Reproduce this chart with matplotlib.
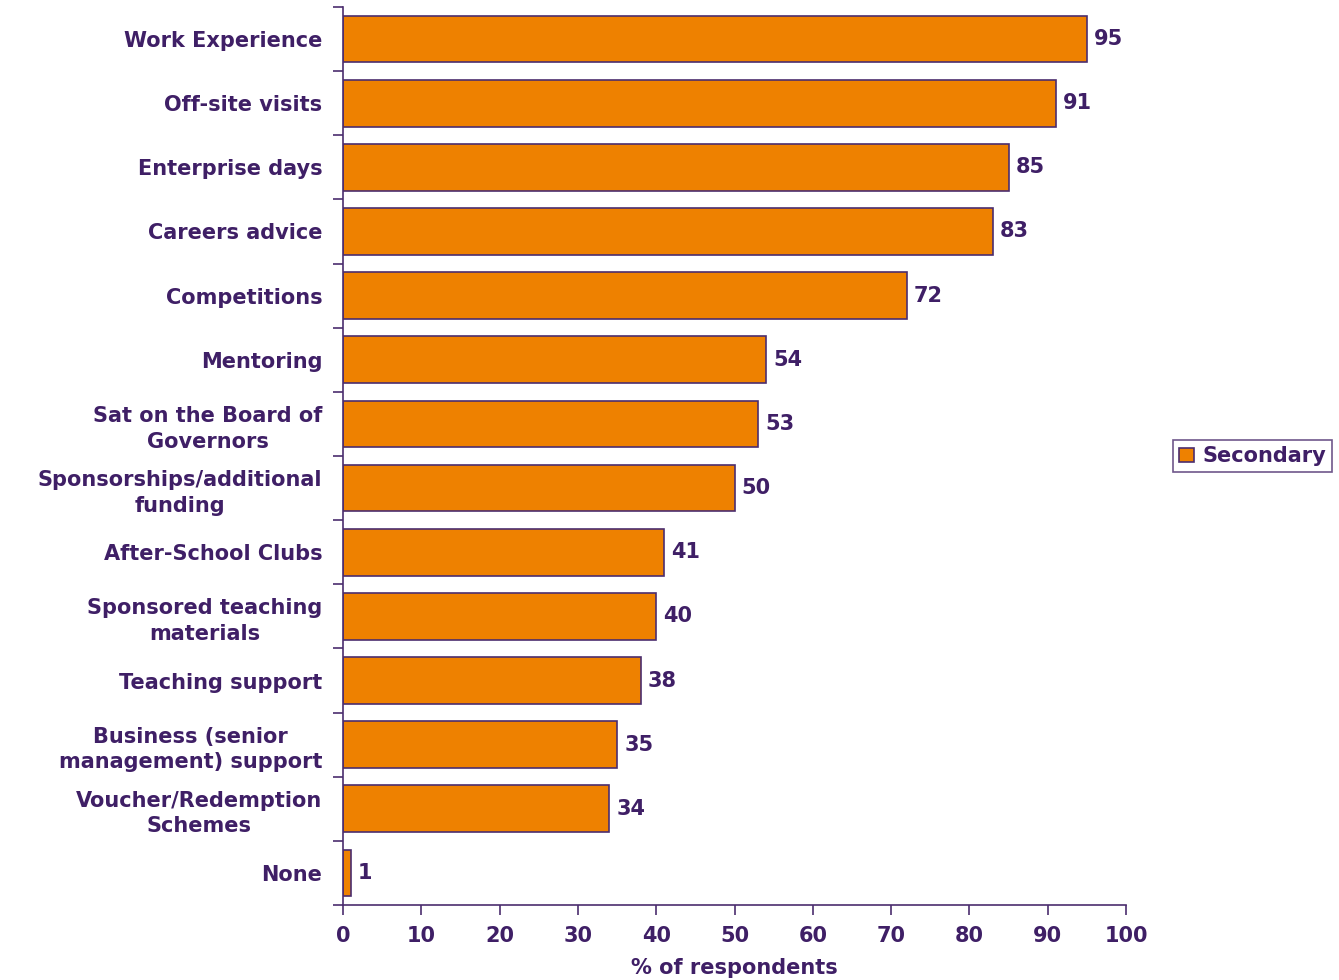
import matplotlib.pyplot as plt

# Employer activities reported by secondary schools
categories = ['Work Experience', 'Off-site visits', 'Enterprise days', 'Careers advice',
              'Competitions', 'Mentoring', 'Sat on the Board of\nGovernors',
              'Sponsorships/additional\nfunding', 'After-School Clubs',
              'Sponsored teaching\nmaterials', 'Teaching support',
              'Business (senior\nmanagement) support', 'Voucher/Redemption\nSchemes', 'None']
secondary = [95, 91, 85, 83, 72, 54, 53, 50, 41, 40, 38, 35, 34, 1]
xticks = [0, 10, 20, 30, 40, 50, 60, 70, 80, 90, 100]

purple = '#3f1f66'
edge = '#4b2d6e'
orange = '#ee8100'

plt.rcParams['font.family'] = 'DejaVu Sans'
plt.rcParams['font.weight'] = 'bold'
fs = 15

fig = plt.figure(figsize=(13.39, 9.8), dpi=100)
ax = fig.add_axes([0.2562, 0.0765, 0.5848, 0.9164])

ypos = list(range(len(categories)))
bars = ax.barh(ypos, secondary, height=0.73, color=orange, edgecolor=edge,
               linewidth=1.2, label='Secondary')
ax.set_ylim(len(categories) - 0.5, -0.5)
ax.set_xlim(0, 100)

for b, v in zip(bars, secondary):
    ax.text(b.get_width() + 0.9, b.get_y() + b.get_height() / 2, str(v),
            va='center', ha='left', fontsize=fs, color=purple, fontweight='bold')

ax.set_yticks(ypos)
ax.set_yticklabels(categories, fontsize=fs, color=purple, fontweight='bold',
                   linespacing=1.35)
for lbl in ax.get_yticklabels():
    lbl.set_multialignment('center')
ax.tick_params(axis='y', length=0, pad=15)
# boundary ticks between categories
ax.set_yticks([i - 0.5 for i in range(len(categories) + 1)], minor=True)
ax.tick_params(axis='y', which='minor', length=7, width=1.2, color=edge)

ax.set_xticks(xticks)
ax.set_xticklabels([str(t) for t in xticks], fontsize=fs, color=purple, fontweight='bold')
ax.tick_params(axis='x', length=7, width=1.2, color=edge, pad=8)
ax.set_xlabel('% of respondents', fontsize=fs, color=purple, fontweight='bold', labelpad=9)

for side in ['top', 'right']:
    ax.spines[side].set_visible(False)
for side in ['left', 'bottom']:
    ax.spines[side].set_color(edge)
    ax.spines[side].set_linewidth(1.2)

leg = fig.legend(loc='center left', bbox_to_anchor=(0.876, 0.5345), fontsize=fs,
                 frameon=True, fancybox=False, handlelength=0.7, handleheight=0.7,
                 handletextpad=0.4, borderpad=0.3, borderaxespad=0)
leg.get_frame().set_edgecolor(edge)
leg.get_frame().set_linewidth(1.2)
for t in leg.get_texts():
    t.set_color(purple)

fig.savefig('out.png', dpi=100)
